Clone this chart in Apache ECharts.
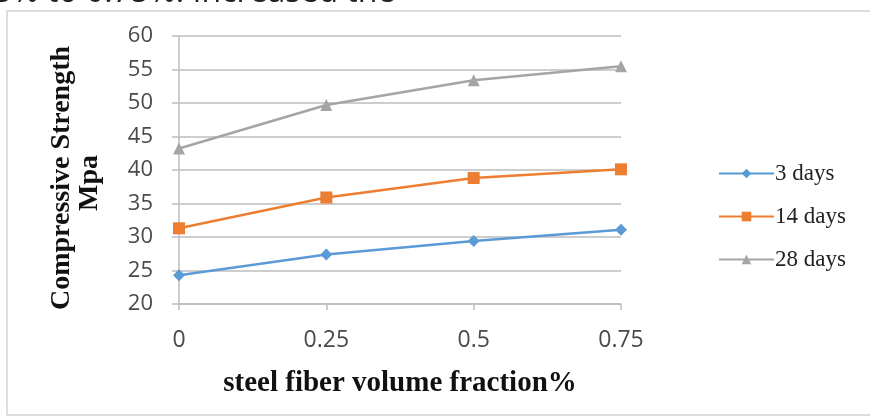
<!DOCTYPE html>
<html><head><meta charset="utf-8">
<script src="https://cdn.jsdelivr.net/npm/echarts@6/dist/echarts.min.js"></script>
<style>html,body{margin:0;padding:0;background:#fff}#c{width:870px;height:418px}</style>
</head><body><div id="c"></div>
<script>
const categories = ['0', '0.25', '0.5', '0.75'];
const days3 = [24.3, 27.4, 29.4, 31.1];
const days14 = [31.3, 35.9, 38.8, 40.1];
const days28 = [43.2, 49.7, 53.4, 55.5];
const seriesNames = ['3 days', '14 days', '28 days'];
const yTicks = { min: 20, max: 60, interval: 5 };

const chart = echarts.init(document.getElementById('c'));
const serif = '"Liberation Serif", "DejaVu Serif", serif';
const sans = '"Open Sans", "Liberation Sans", sans-serif';
chart.setOption({
  animation: false,
  graphic: [
    { type: 'rect', shape: { x: 7, y: 11, width: 900, height: 404 }, style: { fill: 'none', stroke: '#d4d4d4', lineWidth: 1.5 }, z: -1 },
    { type: 'text', x: -6, y: 9, style: { text: '5% to 0.75%. Increased the', font: '32px ' + sans, fill: '#222', verticalAlign: 'bottom' } },
    { type: 'text', x: 62, y: 178, rotation: Math.PI / 2, style: { text: 'Compressive Strength', font: 'bold 28px ' + serif, fill: '#111', align: 'center', verticalAlign: 'middle' } },
    { type: 'text', x: 90, y: 183, rotation: Math.PI / 2, style: { text: 'Mpa', font: 'bold 28px ' + serif, fill: '#111', align: 'center', verticalAlign: 'middle' } }
  ],
  grid: { left: 179, right: 249, top: 36, bottom: 114 },
  legend: {
    orient: 'vertical', left: 713, top: 157, itemWidth: 55, itemHeight: 12, itemGap: 20,
    data: seriesNames,
    textStyle: { fontFamily: serif, fontSize: 23, color: '#222', padding: [0, 0, 0, -4] }
  },
  xAxis: {
    type: 'category', data: categories, boundaryGap: false,
    axisLine: { lineStyle: { color: '#bdbdbd', width: 1.5 } },
    axisTick: { show: true, length: 6, lineStyle: { color: '#bdbdbd', width: 1.5 } },
    axisLabel: { fontFamily: sans, fontSize: 23, color: '#4a4a4a', margin: 25 },
    name: 'steel fiber volume fraction%', nameLocation: 'middle', nameGap: 65,
    nameTextStyle: { fontFamily: serif, fontSize: 29, fontWeight: 'bold', color: '#111' }
  },
  yAxis: {
    type: 'value', min: yTicks.min, max: yTicks.max, interval: yTicks.interval,
    axisLine: { show: true, lineStyle: { color: '#bdbdbd', width: 1.5 } },
    axisTick: { show: true, length: 7, lineStyle: { color: '#bdbdbd', width: 1.5 } },
    splitLine: { lineStyle: { color: '#bdbdbd', width: 1.5 } },
    axisLabel: { fontFamily: sans, fontSize: 22, color: '#4a4a4a', margin: 26 }
  },
  series: [
    { name: seriesNames[0], type: 'line', data: days3, symbol: 'diamond', symbolSize: 12,
      itemStyle: { color: '#5b9bd5' }, lineStyle: { width: 2.5 } },
    { name: seriesNames[1], type: 'line', data: days14, symbol: 'rect', symbolSize: 12,
      itemStyle: { color: '#ed7d31' }, lineStyle: { width: 2.5 } },
    { name: seriesNames[2], type: 'line', data: days28, symbol: 'triangle', symbolSize: 12,
      itemStyle: { color: '#a5a5a5' }, lineStyle: { width: 2.5 } }
  ]
});
</script></body></html>
